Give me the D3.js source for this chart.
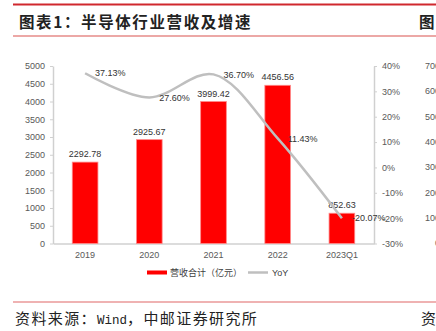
<!DOCTYPE html>
<html><head><meta charset="utf-8">
<script src="https://cdn.jsdelivr.net/npm/d3@7"></script>
<style>body{margin:0;background:#fff}svg{display:block}</style>
</head><body>
<svg id="c" width="436" height="331"></svg>
<script>
const categories = ["2019","2020","2021","2022","2023Q1"];
const revenue = [2292.78, 2925.67, 3999.42, 4456.56, 852.63];
const yoy = [37.13, 27.60, 36.70, 11.43, -20.07];
const leftTicks = [0,500,1000,1500,2000,2500,3000,3500,4000,4500,5000];
const rightTicks = [-30,-20,-10,0,10,20,30,40];
const sideTicks = [0,100,200,300,400,500,600,700];
const title = "图表1：半导体行业营收及增速";
const legendNames = ["营收合计（亿元）","YoY"];

const svg = d3.select("#c");
const font = "Liberation Sans, Arial, sans-serif";
const cjk = "'Noto Sans CJK SC', sans-serif";

// frame lines
svg.append("rect").attr("x",13).attr("y",3.5).attr("width",423).attr("height",2).attr("fill","#d0282e");
svg.append("rect").attr("x",13).attr("y",35.5).attr("width",423).attr("height",1).attr("fill","#d9534f");
svg.append("rect").attr("x",13).attr("y",301.5).attr("width",423).attr("height",1).attr("fill","#e06666");

svg.append("text").attr("x",19).attr("y",28).text(title)
  .attr("font-family",cjk).attr("font-weight","bold").attr("font-size",15.5)
  .attr("letter-spacing",1.6).attr("fill","#222");
svg.append("text").attr("x",419).attr("y",28).text("图")
  .attr("font-family",cjk).attr("font-weight","bold").attr("font-size",15.5).attr("fill","#222");

const src = svg.append("text").attr("x",15).attr("y",324).attr("fill","#222").attr("font-size",15);
src.append("tspan").text("资料来源：").attr("font-family",cjk).attr("letter-spacing",1.4);
src.append("tspan").text("Wind").attr("font-family","'Liberation Mono', monospace").attr("font-size",12.5);
src.append("tspan").text("，中邮证券研究所").attr("font-family",cjk).attr("letter-spacing",1.4);
svg.append("text").attr("x",421).attr("y",324).text("资").attr("font-family",cjk).attr("font-size",15).attr("fill","#222");

// scales
const x0 = 53, x1 = 374, yTop = 66, yBot = 243.5;
const x = d3.scaleBand().domain(categories).range([x0,x1]).paddingInner(0.6).paddingOuter(0.3);
const yL = d3.scaleLinear().domain([0,5000]).range([yBot,yTop]);
const yR = d3.scaleLinear().domain([-30,40]).range([yBot,yTop]);
const yS = d3.scaleLinear().domain([0,700]).range([yBot,yTop]);

const axisColor = "#d0d0d0", tickText = "#595959";
function style(g){
  g.selectAll("path,line").attr("stroke",axisColor);
  g.selectAll("text").attr("fill",tickText).attr("font-family",font).attr("font-size",9);
}
svg.append("g").attr("transform",`translate(${x0},0)`)
  .call(d3.axisLeft(yL).tickValues(leftTicks).tickSize(3).tickSizeOuter(0).tickPadding(5).tickFormat(d=>String(d))).call(style)
  .call(g=>g.select(".domain").attr("stroke-width",1.5));
svg.append("g").attr("transform",`translate(${x1},0)`)
  .call(d3.axisRight(yR).tickValues(rightTicks).tickSize(3).tickSizeOuter(0).tickPadding(5).tickFormat(d=>d+"%")).call(style)
  .call(g=>g.select(".domain").attr("stroke-width",1.5));
svg.append("g").attr("transform",`translate(0,${yBot})`)
  .call(d3.axisBottom(x).tickSize(0).tickSizeOuter(0).tickPadding(8)).call(style)
  .call(g=>g.select(".domain").attr("stroke-width",1.5));

// partial neighbour chart axis labels
svg.append("g").selectAll("text").data(sideTicks).join("text")
  .attr("x",440).attr("y",d=>yS(d)).attr("dy","0.32em").attr("text-anchor","end")
  .attr("font-family",font).attr("font-size",9).attr("fill",tickText).text(d=>String(d));

// bars
svg.append("g").selectAll("rect").data(revenue).join("rect")
  .attr("x",(d,i)=>x(categories[i])).attr("width",x.bandwidth())
  .attr("y",d=>yL(d)).attr("height",d=>yBot-yL(d))
  .attr("fill","#ff0000").attr("stroke","#ff8a8a").attr("stroke-width",0.8);
svg.append("g").selectAll("text").data(revenue).join("text")
  .attr("x",(d,i)=>x(categories[i])+x.bandwidth()/2).attr("y",d=>yL(d)-5)
  .attr("text-anchor","middle").attr("font-family",font).attr("font-size",9).attr("fill","#333")
  .text(d=>d.toFixed(2));

// line
const cx = i => x(categories[i])+x.bandwidth()/2;
const line = d3.line().x((d,i)=>cx(i)).y(d=>yR(d)).curve(d3.curveCatmullRom.alpha(0.5));
svg.append("path").datum(yoy).attr("d",line).attr("fill","none")
  .attr("stroke","#bfbfbf").attr("stroke-width",2.5);
svg.append("g").selectAll("text").data(yoy).join("text")
  .attr("x",(d,i)=>cx(i)+10).attr("y",d=>yR(d)).attr("dy","0.35em")
  .attr("font-family",font).attr("font-size",9).attr("fill","#333")
  .text(d=>d.toFixed(2)+"%");

// legend
const lg = svg.append("g");
lg.append("rect").attr("x",147).attr("y",270.5).attr("width",20).attr("height",4).attr("fill","#ff0000");
lg.append("text").attr("x",170).attr("y",276).text(legendNames[0]).attr("font-family",cjk).attr("font-size",9).attr("fill","#404040");
lg.append("line").attr("x1",248).attr("x2",268).attr("y1",272.5).attr("y2",272.5).attr("stroke","#bfbfbf").attr("stroke-width",2.5);
lg.append("text").attr("x",272).attr("y",276).text(legendNames[1]).attr("font-family",font).attr("font-size",9).attr("fill","#404040");
</script>
</body></html>
